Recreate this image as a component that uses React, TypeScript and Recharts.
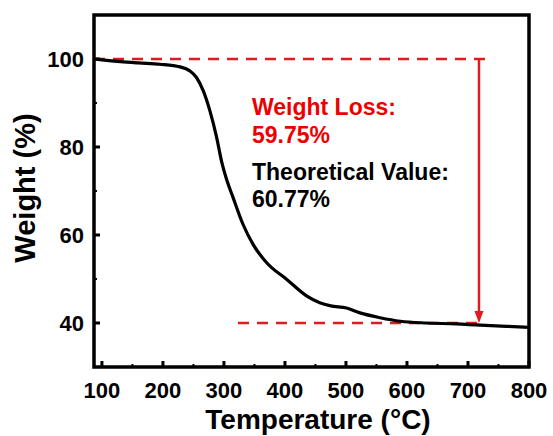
import React from "react"
import { LineChart, Line, XAxis, YAxis, ReferenceLine, ReferenceArea } from "recharts"

// TGA curve
const temperature = [87, 100, 130, 160, 195, 228, 244, 255, 266, 277, 288, 296, 304, 315, 331, 348, 370, 403, 436, 457, 475, 501, 523, 556, 589, 632, 681, 720, 763, 800]
const weight = [100.0, 99.8, 99.4, 99.1, 98.8, 98.2, 97.3, 95.8, 92.8, 88.2, 82.2, 76.8, 72.8, 68.5, 62.5, 57.8, 53.7, 49.9, 46.1, 44.6, 43.9, 43.4, 42.3, 41.2, 40.4, 40.0, 39.8, 39.5, 39.25, 39.0]

const xMajorTicks = [100, 200, 300, 400, 500, 600, 700, 800]
const xMinorTicks = [150, 250, 350, 450, 550, 650, 750]
const yMajorTicks = [40, 60, 80, 100]
const yMinorTicks = [50, 70, 90]

const xDomain = [87, 800]
const yDomain = [30, 110]
const startLevel = 100
const residueLevel = 40
const arrowTemp = 718

const data = temperature.map((t, i) => ({ t, w: weight[i] }))

const FONT = "'Liberation Sans', Arial, sans-serif"
const RED_LINE = "#e01b1f"
const RED_TEXT = "#ee0000"

function XTick(props: any) {
  const { x, y, payload } = props
  const major = xMajorTicks.includes(payload.value)
  if (!major) return <line x1={x} x2={x} y1={y} y2={y - 3} stroke="#000" strokeWidth={2} />
  return (
    <g>
      <line x1={x} x2={x} y1={y} y2={y - 6} stroke="#000" strokeWidth={3} />
      <text x={x} y={y + 15} dy="0.71em" textAnchor="middle" fontFamily={FONT} fontWeight="bold" fontSize={22} fill="#000">
        {payload.value}
      </text>
    </g>
  )
}

function YTick(props: any) {
  const { x, y, payload } = props
  const major = yMajorTicks.includes(payload.value)
  if (!major) return <line x1={x} x2={x + 3} y1={y} y2={y} stroke="#000" strokeWidth={2} />
  return (
    <g>
      <line x1={x} x2={x + 6} y1={y} y2={y} stroke="#000" strokeWidth={3} />
      <text x={x - 10} y={y} dy="0.36em" textAnchor="end" fontFamily={FONT} fontWeight="bold" fontSize={22} fill="#000">
        {payload.value}
      </text>
    </g>
  )
}

function DashedLine(props: any) {
  const { x1, y1, x2, y2 } = props
  return <line x1={x1} y1={y1} x2={x2} y2={y2} stroke={RED_LINE} strokeWidth={2.5} strokeDasharray="11 8" />
}

function Arrow(props: any) {
  const { x1, y1, x2, y2 } = props
  return (
    <g>
      <line x1={x1} y1={y1} x2={x2} y2={y2 - 8} stroke={RED_LINE} strokeWidth={2.5} />
      <path d={`M${x2 - 4.5},${y2 - 12} L${x2 + 4.5},${y2 - 12} L${x2},${y2} Z`} fill={RED_LINE} />
    </g>
  )
}

export default function App() {
  return (
    <div style={{ position: "absolute", left: 0, top: 0, background: "#fff" }}>
      <LineChart width={553} height={436} data={data} margin={{ top: 15, right: 24, bottom: 0, left: 0 }}>
        <XAxis
          dataKey="t"
          type="number"
          domain={xDomain}
          ticks={[...xMajorTicks, ...xMinorTicks]}
          interval={0}
          allowDataOverflow
          height={69}
          tickSize={0}
          tickMargin={0}
          tickLine={false}
          tick={<XTick />}
          axisLine={false}
        />
        <YAxis
          type="number"
          domain={yDomain}
          ticks={[...yMajorTicks, ...yMinorTicks]}
          interval={0}
          allowDataOverflow
          width={94}
          tickSize={0}
          tickMargin={0}
          tickLine={false}
          tick={<YTick />}
          axisLine={false}
        />
        <ReferenceLine segment={[{ x: 87, y: startLevel }, { x: 733, y: startLevel }]} shape={<DashedLine />} />
        <ReferenceLine segment={[{ x: 323, y: residueLevel }, { x: 720, y: residueLevel }]} shape={<DashedLine />} />
        <Line dataKey="w" type="monotone" stroke="#000" strokeWidth={3.2} dot={false} isAnimationActive={false} />
        <ReferenceLine segment={[{ x: arrowTemp, y: startLevel }, { x: arrowTemp, y: residueLevel }]} shape={<Arrow />} />
        <ReferenceArea
          x1={xDomain[0]}
          x2={xDomain[1]}
          y1={yDomain[0]}
          y2={yDomain[1]}
          fill="none"
          fillOpacity={0}
          stroke="#000"
          strokeWidth={3.5}
        />
        <text x={35} y={188} transform="rotate(-90, 35, 188)" textAnchor="middle" fontFamily={FONT} fontWeight="bold" fontSize={29} fill="#000">
          Weight (%)
        </text>
        <text x={318} y={429} textAnchor="middle" fontFamily={FONT} fontWeight="bold" fontSize={28} fill="#000">
          Temperature (°C)
        </text>
        <text x={252} y={115} fontFamily={FONT} fontWeight="bold" fontSize={23} fill={RED_TEXT}>Weight Loss:</text>
        <text x={252} y={143} fontFamily={FONT} fontWeight="bold" fontSize={23} fill={RED_TEXT}>59.75%</text>
        <text x={252} y={180} fontFamily={FONT} fontWeight="bold" fontSize={23} fill="#000">Theoretical Value:</text>
        <text x={252} y={207} fontFamily={FONT} fontWeight="bold" fontSize={23} fill="#000">60.77%</text>
      </LineChart>
    </div>
  )
}
